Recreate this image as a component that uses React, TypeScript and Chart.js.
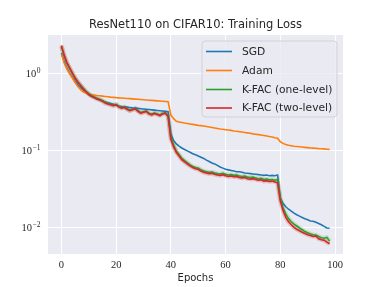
import React, { useEffect, useRef } from 'react';
import { Chart, registerables } from 'chart.js';

Chart.register(...registerables);

const TITLE = 'ResNet110 on CIFAR10: Training Loss';
const X_LABEL = 'Epochs';
const X_TICKS = [0, 20, 40, 60, 80, 100];
const Y_TICKS = [0.01, 0.1, 1];
const Y_TICK_EXP = ['\u22122', '\u22121', '0'];
const SERIES_NAMES = ['SGD', 'Adam', 'K-FAC (one-level)', 'K-FAC (two-level)'];
const SERIES_COLORS = ['#1f77b4', '#ff7f0e', '#2ca02c', '#d62728'];

const sgd = [
  1.86, 1.45, 1.18, 1.02, 0.9, 0.8, 0.72, 0.66, 0.61, 0.57,
  0.53, 0.51, 0.49, 0.47, 0.46, 0.44, 0.43, 0.42, 0.41, 0.4,
  0.39, 0.38, 0.375, 0.372, 0.368, 0.364, 0.36, 0.357, 0.354, 0.351,
  0.348, 0.345, 0.342, 0.339, 0.336, 0.333, 0.33, 0.327, 0.324, 0.321,
  0.165, 0.135, 0.122, 0.114, 0.108, 0.103, 0.099, 0.095, 0.091, 0.088,
  0.085, 0.082, 0.079, 0.075, 0.072, 0.069, 0.067, 0.064, 0.061, 0.059,
  0.057, 0.056, 0.055, 0.054, 0.053, 0.053, 0.052, 0.051, 0.0505, 0.05,
  0.0495, 0.049, 0.0485, 0.048, 0.0475, 0.048, 0.047, 0.0475, 0.047, 0.048,
  0.024, 0.0205, 0.0185, 0.0172, 0.0162, 0.0153, 0.0146, 0.014, 0.0134, 0.0129,
  0.0125, 0.0121, 0.012, 0.0116, 0.0112, 0.0108, 0.0103, 0.0098, 0.0097,
];

const adam = [
  1.8, 1.38, 1.15, 1.0, 0.88, 0.77, 0.68, 0.62, 0.58, 0.56,
  0.545, 0.535, 0.53, 0.522, 0.517, 0.512, 0.507, 0.502, 0.497, 0.493,
  0.489, 0.486, 0.483, 0.48, 0.477, 0.474, 0.471, 0.468, 0.465, 0.462,
  0.459, 0.456, 0.453, 0.45, 0.447, 0.444, 0.441, 0.438, 0.435, 0.432,
  0.29, 0.26, 0.24, 0.236, 0.232, 0.228, 0.225, 0.222, 0.219, 0.216,
  0.213, 0.211, 0.209, 0.206, 0.203, 0.2, 0.197, 0.194, 0.191, 0.189,
  0.187, 0.185, 0.183, 0.18, 0.178, 0.176, 0.174, 0.172, 0.17, 0.168,
  0.165, 0.163, 0.161, 0.159, 0.157, 0.155, 0.152, 0.15, 0.147, 0.145,
  0.13, 0.124, 0.12, 0.117, 0.1155, 0.114, 0.113, 0.112, 0.111, 0.11,
  0.109, 0.108, 0.1075, 0.107, 0.106, 0.1055, 0.105, 0.104, 0.1035,
];

const kfacOne = [
  2.25, 1.7, 1.38, 1.18, 1.01, 0.88, 0.78, 0.71, 0.645, 0.59,
  0.55, 0.52, 0.5, 0.48, 0.465, 0.45, 0.425, 0.41, 0.4, 0.39,
  0.4, 0.375, 0.362, 0.37, 0.35, 0.335, 0.345, 0.355, 0.33, 0.312,
  0.32, 0.328, 0.305, 0.297, 0.308, 0.3, 0.29, 0.305, 0.31, 0.283,
  0.15, 0.118, 0.098, 0.088, 0.079, 0.074, 0.069, 0.065, 0.062, 0.06,
  0.059, 0.056, 0.054, 0.053, 0.052, 0.0525, 0.051, 0.05, 0.0495, 0.0505,
  0.049, 0.048, 0.0485, 0.0475, 0.048, 0.0465, 0.046, 0.0465, 0.045, 0.0445,
  0.045, 0.044, 0.043, 0.0435, 0.042, 0.0425, 0.0415, 0.042, 0.041, 0.042,
  0.024, 0.018, 0.0148, 0.013, 0.0118, 0.011, 0.0104, 0.0098, 0.0093, 0.0088,
  0.0085, 0.0082, 0.008, 0.0079, 0.0076, 0.0073, 0.0072, 0.0074, 0.0066,
];

const kfacTwo = [
  2.34, 1.75, 1.4, 1.19, 1.02, 0.88, 0.78, 0.71, 0.64, 0.58,
  0.54, 0.51, 0.49, 0.47, 0.455, 0.44, 0.415, 0.405, 0.395, 0.385,
  0.394, 0.37, 0.357, 0.364, 0.345, 0.33, 0.34, 0.35, 0.325, 0.307,
  0.315, 0.323, 0.3, 0.292, 0.304, 0.295, 0.286, 0.3, 0.307, 0.277,
  0.14, 0.112, 0.095, 0.085, 0.076, 0.071, 0.067, 0.063, 0.06, 0.058,
  0.057, 0.054, 0.052, 0.051, 0.05, 0.0505, 0.049, 0.048, 0.0475, 0.0485,
  0.047, 0.046, 0.0465, 0.0455, 0.046, 0.0445, 0.044, 0.0445, 0.043, 0.0425,
  0.043, 0.042, 0.041, 0.0415, 0.04, 0.0405, 0.0395, 0.04, 0.039, 0.038,
  0.022, 0.0165, 0.0135, 0.0118, 0.0108, 0.01, 0.0094, 0.009, 0.0086, 0.0083,
  0.008, 0.0078, 0.0076, 0.0077, 0.0071, 0.0069, 0.0068, 0.0064, 0.0061,
];

const SERIES = [sgd, adam, kfacOne, kfacTwo];

const toPoints = (arr: number[]) => arr.map((v, i) => ({ x: i, y: v }));

const TEXT_COLOR = '#262626';
const SANS = '"DejaVu Sans", sans-serif';
const SERIF = '"Liberation Serif", "DejaVu Serif", serif';

const bgPlugin = {
  id: 'plotBg',
  beforeDraw(chart: any) {
    const { ctx, chartArea } = chart;
    ctx.save();
    ctx.fillStyle = '#ffffff';
    ctx.fillRect(0, 0, chart.width, chart.height);
    ctx.fillStyle = '#EAEAF2';
    ctx.fillRect(chartArea.left, chartArea.top, chartArea.right - chartArea.left, chartArea.bottom - chartArea.top);
    ctx.restore();
  },
};

const textPlugin = {
  id: 'texts',
  afterDraw(chart: any) {
    const { ctx, chartArea } = chart;
    const y = chart.scales.y;
    ctx.save();
    // title
    ctx.fillStyle = TEXT_COLOR;
    ctx.font = `11.2px ${SANS}`;
    ctx.textAlign = 'center';
    ctx.textBaseline = 'middle';
    const tw = ctx.measureText(TITLE).width;
    const targetW = 213;
    const fs = 11.2 * targetW / tw;
    ctx.font = `${fs.toFixed(2)}px ${SANS}`;
    ctx.fillText(TITLE, (chartArea.left + chartArea.right) / 2, 25);
    // y tick labels with superscript exponents
    ctx.textBaseline = 'alphabetic';
    ctx.textAlign = 'left';
    const rightEdge = 40.5;
    Y_TICKS.forEach((v, i) => {
      const py = y.getPixelForValue(v);
      ctx.font = `7.5px ${SERIF}`;
      const exp = Y_TICK_EXP[i];
      const ew = ctx.measureText(exp).width;
      ctx.font = `10.5px ${SERIF}`;
      const bw = ctx.measureText('10').width;
      const x0 = rightEdge - ew - bw - 0.5;
      ctx.fillText('10', x0, py + 3.6);
      ctx.font = `7.5px ${SERIF}`;
      ctx.fillText(exp, x0 + bw + 0.5, py - 0.8);
    });
    ctx.restore();
  },
};

const legendPlugin = {
  id: 'boxLegend',
  afterDraw(chart: any) {
    const { ctx } = chart;
    ctx.save();
    const bx = 202, by = 41, bw = 135, bh = 76, r = 3;
    ctx.beginPath();
    ctx.moveTo(bx + r, by);
    ctx.lineTo(bx + bw - r, by);
    ctx.quadraticCurveTo(bx + bw, by, bx + bw, by + r);
    ctx.lineTo(bx + bw, by + bh - r);
    ctx.quadraticCurveTo(bx + bw, by + bh, bx + bw - r, by + bh);
    ctx.lineTo(bx + r, by + bh);
    ctx.quadraticCurveTo(bx, by + bh, bx, by + bh - r);
    ctx.lineTo(bx, by + r);
    ctx.quadraticCurveTo(bx, by, bx + r, by);
    ctx.closePath();
    ctx.fillStyle = 'rgba(234,234,242,0.8)';
    ctx.fill();
    ctx.strokeStyle = 'rgba(204,204,204,0.8)';
    ctx.lineWidth = 1;
    ctx.stroke();
    const rows = [51.5, 70.5, 89.5, 108];
    SERIES_NAMES.forEach((name, i) => {
      const yy = rows[i];
      ctx.strokeStyle = SERIES_COLORS[i];
      ctx.lineWidth = 1.6;
      ctx.beginPath();
      ctx.moveTo(206, yy);
      ctx.lineTo(232, yy);
      ctx.stroke();
      ctx.fillStyle = TEXT_COLOR;
      ctx.font = `10.7px ${SANS}`;
      ctx.textAlign = 'left';
      ctx.textBaseline = 'middle';
      ctx.fillText(name, 242, yy + 0.5);
    });
    ctx.restore();
  },
};

export default function App() {
  const ref = useRef<HTMLCanvasElement | null>(null);

  useEffect(() => {
    if (!ref.current) return;
    const lineDs = (i: number, order: number) => ({
      label: SERIES_NAMES[i],
      data: toPoints(SERIES[i]),
      borderColor: SERIES_COLORS[i],
      backgroundColor: SERIES_COLORS[i],
      borderWidth: 1.6,
      pointRadius: 0,
      tension: 0,
      order,
    });
    const bandDs = (i: number, rgba: string, order: number) => ({
      label: '',
      data: toPoints(SERIES[i]),
      borderColor: rgba,
      borderWidth: 4.5,
      pointRadius: 0,
      tension: 0,
      order,
    });
    const chart = new Chart(ref.current, {
      type: 'line',
      data: {
        datasets: [
          lineDs(3, 0),
          lineDs(2, 1),
          lineDs(1, 2),
          lineDs(0, 3),
          bandDs(3, 'rgba(214,39,40,0.22)', 4),
          bandDs(2, 'rgba(44,160,44,0.18)', 5),
        ],
      },
      options: {
        animation: false,
        responsive: false,
        devicePixelRatio: 1,
        layout: { padding: { left: 0, right: 39, top: 35, bottom: 0 } },
        plugins: {
          legend: { display: false },
          tooltip: { enabled: false },
          title: { display: false },
        },
        scales: {
          x: {
            type: 'linear',
            min: -4.9,
            max: 102.9,
            afterBuildTicks: (s: any) => {
              s.ticks = X_TICKS.map((v) => ({ value: v }));
            },
            afterFit: (s: any) => {
              s.height = 33;
            },
            ticks: {
              color: TEXT_COLOR,
              font: { family: SERIF, size: 10.5 },
              padding: 5,
              maxRotation: 0,
              callback: (v: any) => String(v),
            },
            grid: { color: '#ffffff', lineWidth: 1, drawTicks: false },
            border: { display: false },
            title: {
              display: true,
              text: X_LABEL,
              color: TEXT_COLOR,
              font: { family: SANS, size: 10 },
              padding: { top: 0, bottom: 2.4 },
            },
          },
          y: {
            type: 'logarithmic',
            min: 0.00449,
            max: 3.2,
            afterBuildTicks: (s: any) => {
              s.ticks = Y_TICKS.map((v) => ({ value: v, major: true }));
            },
            afterFit: (s: any) => {
              s.width = 48;
            },
            ticks: {
              callback: () => '',
              padding: 8,
            },
            grid: { color: '#ffffff', lineWidth: 1, drawTicks: false },
            border: { display: false },
          },
        },
      } as any,
      plugins: [bgPlugin, textPlugin, legendPlugin],
    });
    return () => chart.destroy();
  }, []);

  return (
    <div style={{ position: 'absolute', left: 0, top: 0, width: 382, height: 287, background: '#fff' }}>
      <canvas ref={ref} width={382} height={287} style={{ display: 'block' }} />
    </div>
  );
}
